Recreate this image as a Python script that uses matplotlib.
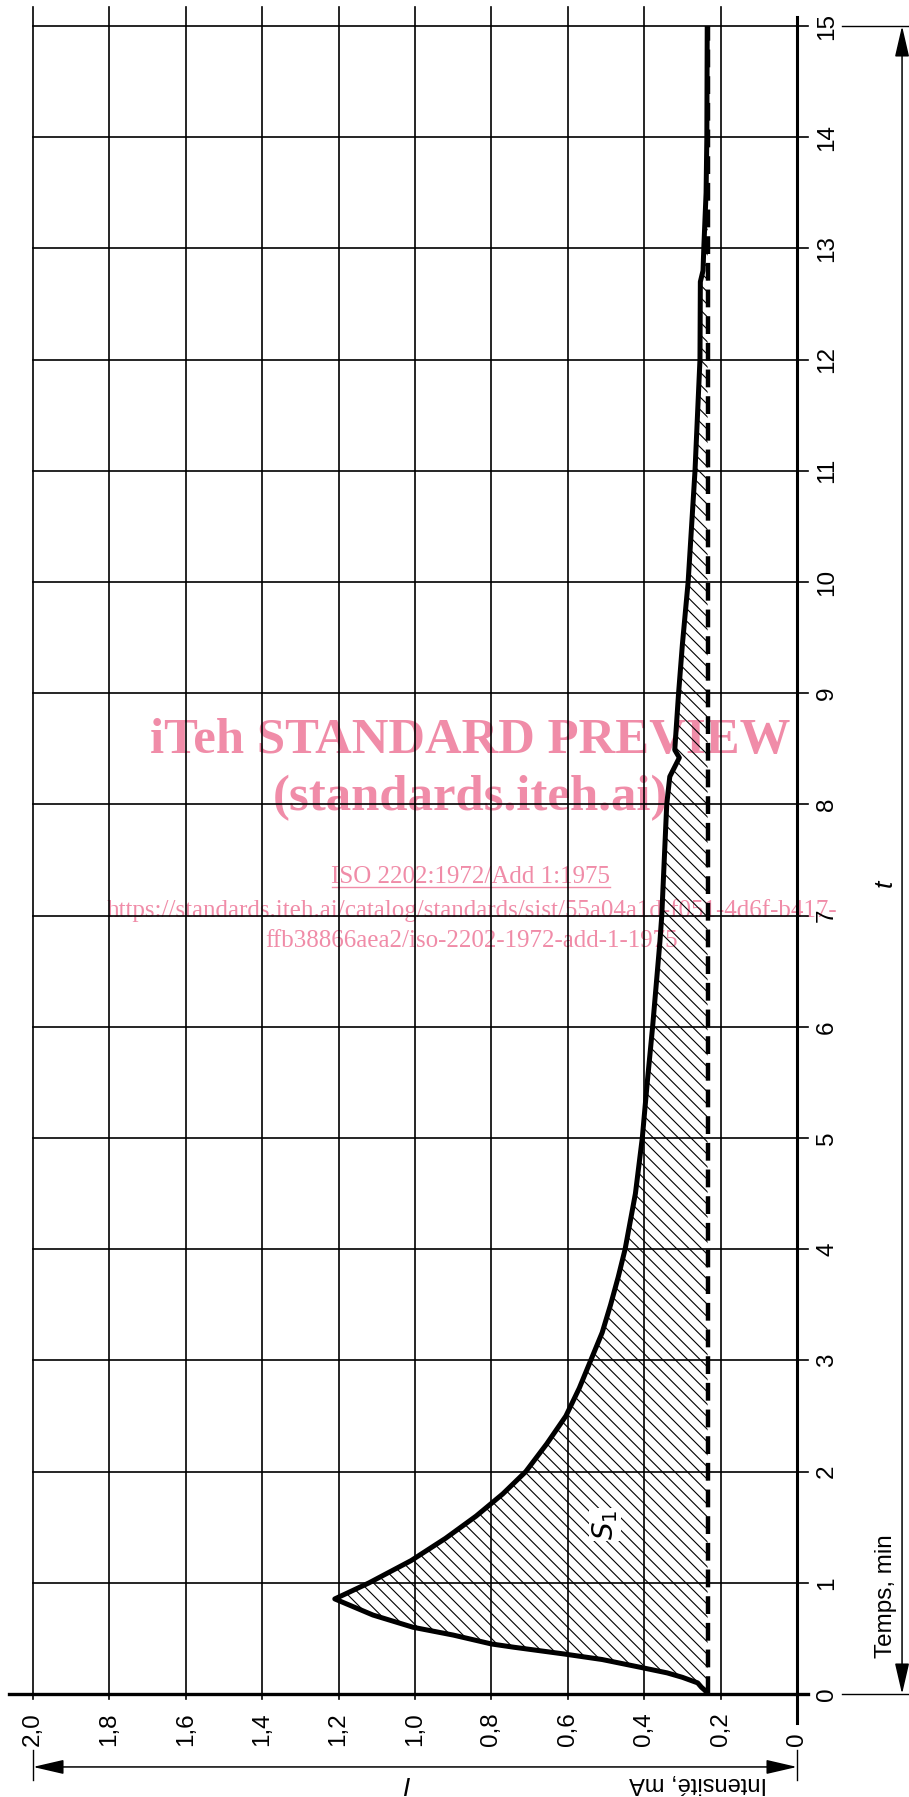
import numpy as np
import matplotlib
matplotlib.use("Agg")
import matplotlib.pyplot as plt
from matplotlib.collections import LineCollection
from matplotlib.transforms import IdentityTransform

plt.rcParams['font.family'] = ['Liberation Sans', 'DejaVu Sans']

time_min = [0.0, 0.03, 0.06, 0.10, 0.15, 0.19, 0.24, 0.31, 0.36, 0.42, 0.45,
            0.53, 0.60, 0.71, 0.855, 1.0, 1.2, 1.4, 1.6, 1.8, 2.0, 2.25,
            2.5, 2.75, 3.0, 3.25, 3.5, 3.75, 4.0, 4.5, 5.0, 5.5, 6.0, 6.76, 7.0,
            8.0, 8.25, 8.42, 8.49, 9.0, 9.44, 10.0, 11.0, 12.0, 12.7, 12.8, 13.0,
            13.5, 14.0, 15.0]
intensity = [0.235, 0.24, 0.25, 0.26, 0.30, 0.34, 0.41, 0.51, 0.61, 0.74, 0.80,
             0.90, 1.005, 1.11, 1.21, 1.12, 1.01, 0.92, 0.84, 0.77, 0.71, 0.655,
             0.605, 0.57, 0.54, 0.51, 0.488, 0.468, 0.45, 0.423, 0.405, 0.392,
             0.378, 0.359, 0.354, 0.341, 0.333, 0.308, 0.32, 0.31, 0.30, 0.285,
             0.267, 0.254, 0.253, 0.246, 0.244, 0.238, 0.236, 0.235]
baseline = 0.234  # residual current (dashed)

i_ticks = [2.0, 1.8, 1.6, 1.4, 1.2, 1.0, 0.8, 0.6, 0.4, 0.2, 0.0]
i_labels = ['2,0', '1,8', '1,6', '1,4', '1,2', '1,0', '0,8', '0,6', '0,4', '0,2', '0']
t_ticks = list(range(0, 16))

pink = '#F08CA8'

fig = plt.figure(figsize=(9.09, 17.97), dpi=100)
ax = fig.add_axes([33 / 909, 1 - 1694 / 1797, 764 / 909, 1668 / 1797])
ax.set_xlim(2.0, 0.0)
ax.set_ylim(0, 15)
ax.axis('off')

# grid
for v in i_ticks:
    if v == 0.0:
        ax.plot([0, 0], [-0.26, 15.08], color='k', lw=2.2, clip_on=False)
    else:
        ax.plot([v, v], [-0.045, 15.17], color='k', lw=1.2, clip_on=False)
for tt in t_ticks:
    if tt == 0:
        ax.plot([2.063, -0.029], [0, 0], color='k', lw=2.4, clip_on=False)
    else:
        ax.plot([2.0, -0.029], [tt, tt], color='k', lw=1.2, clip_on=False)

# hatched area S1: fine diagonal lines clipped to the area
area = ax.fill_betweenx(time_min, baseline, intensity, facecolor='none',
                        edgecolor='none', zorder=2)
step = 12.5
segs = [[(0, c), (1000, c - 1000)] for c in np.arange(0, 2900, step)]
hatch = LineCollection(segs, colors='k', linewidths=0.8,
                       transform=IdentityTransform(), zorder=2)
ax.add_collection(hatch, autolim=False)
hatch.set_clip_path(area.get_paths()[0], ax.transData)

ax.plot([baseline, baseline], [0.0, 15.0], color='k', lw=3.2,
        ls=(0, (4, 2)), zorder=3)
ax.plot(intensity, time_min, color='k', lw=3.6, zorder=4)

ax.text(0.503, 1.52, r'$S_1$', rotation=90, fontsize=20, ha='center', va='center',
        zorder=5, bbox=dict(facecolor='white', edgecolor='none', pad=1))

# tick labels
for v, lab in zip(i_ticks, i_labels):
    ax.text(v, -0.465, lab, rotation=90, fontsize=17.5, ha='center', va='bottom',
            clip_on=False)
for tt in t_ticks:
    ax.text(-0.079, tt, str(tt), rotation=90, fontsize=17.5, ha='center',
            va='center', clip_on=False)

# dimension arrows
arrow = dict(arrowstyle='<|-|>,head_length=0.95,head_width=0.22', color='k',
             lw=1.1, mutation_scale=20, shrinkA=0, shrinkB=0)
ax.annotate('', xy=(0.0, -0.656), xytext=(2.0, -0.656), arrowprops=arrow,
            annotation_clip=False)
for v in [2.0, 0.0]:
    ax.plot([v, v], [-0.50, -0.773], color='k', lw=1.0, clip_on=False)
ax.annotate('', xy=(-0.275, 15.0), xytext=(-0.275, 0.0), arrowprops=arrow,
            annotation_clip=False)
for tt in [0, 15]:
    ax.plot([-0.118, -0.30], [tt, tt], color='k', lw=1.0, clip_on=False)

ax.text(0.258, -0.80, 'Intensité, mA', rotation=180, fontsize=17,
        ha='center', va='center', clip_on=False)
ax.text(1.026, -0.80, 'I', rotation=180, fontsize=19, style='italic',
        ha='center', va='center', clip_on=False)
ax.text(-0.233, 0.88, 'Temps, min', rotation=90, fontsize=17.5,
        ha='center', va='center', clip_on=False)
ax.text(-0.230, 7.29, 't', rotation=90, fontsize=19, style='italic',
        ha='center', va='center', clip_on=False)

# watermark
wm = dict(color=pink, family='Liberation Serif', ha='center', va='baseline',
          zorder=0.5)
ax.text(0.856, 8.458, 'iTeh STANDARD PREVIEW', fontsize=36.5, weight='bold', **wm)
ax.text(0.856, 7.95, '(standards.iteh.ai)', fontsize=36.5, weight='bold', **wm)
ax.text(0.856, 7.292, 'ISO 2202:1972/Add 1:1975', fontsize=18, **wm)
ax.plot([1.217, 0.49], [7.257, 7.257], color=pink, lw=1.0, zorder=0.5)
ax.text(0.851, 6.99, 'https://standards.iteh.ai/catalog/standards/sist/55a04a1d-f051-4d6f-b417-',
        fontsize=18, **wm)
ax.text(0.851, 6.72, 'ffb38866aea2/iso-2202-1972-add-1-1975', fontsize=18, **wm)

fig.savefig('out.png', dpi=100)
